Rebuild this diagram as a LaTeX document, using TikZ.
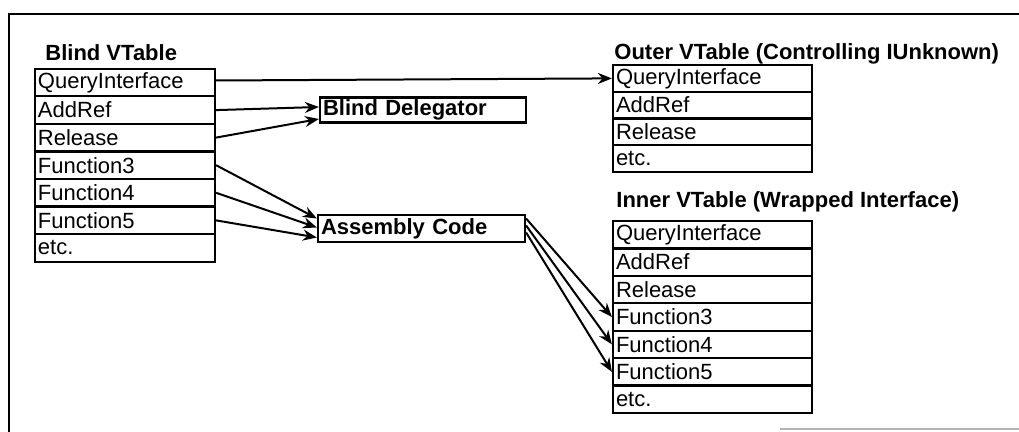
\documentclass[tikz,border=0pt]{standalone}
\usepackage{fontspec}
\setmainfont{Liberation Sans}
\usetikzlibrary{arrows.meta}
\tikzset{
  cell/.style={draw, line width=1.1pt, inner xsep=1.5pt, inner ysep=0pt,
    align=left, font=\fontsize{11}{13}\selectfont},
  brow/.style={cell, text width=87pt, minimum height=13.79pt},
  orow/.style={cell, text width=96.5pt, minimum height=13.38pt},
  irow/.style={cell, text width=96.5pt, minimum height=13.71pt},
  codebox/.style={draw, line width=1.1pt, inner xsep=1.5pt, inner ysep=0pt,
    align=left, font=\fontsize{11}{13}\selectfont\bfseries},
  heading/.style={anchor=base west, inner sep=0pt, font=\fontsize{11}{13}\selectfont\bfseries},
  link/.style={-{Stealth[length=7pt,width=5.5pt]}, line width=1pt},
  frameline/.style={line width=0.6pt}
}
\begin{document}
\begin{tikzpicture}[x=0.5pt, y=-0.5pt]
  \useasboundingbox (0,0) rectangle (1019,432);

  % page frame
  \draw[frameline] (9,432) -- (9,14) -- (1019,14);
  \draw[frameline, gray!60] (780,429) -- (1019,429);

  % blind vtable
  \node[heading] (btitle) at (45,61) {Blind VTable};
  \node[brow] (b1) at (125,82.5) {QueryInterface};
  \node[brow] (b2) at (125,110.1) {AddRef};
  \node[brow] (b3) at (125,137.6) {Release};
  \node[brow] (b4) at (125,165.2) {Function3};
  \node[brow] (b5) at (125,192.8) {Function4};
  \node[brow] (b6) at (125,220.4) {Function5};
  \node[brow] (b7) at (125,247.9) {etc.};

  % delegator and thunks
  \node[codebox, text width=100pt, minimum height=12.5pt] (dlg) at (423,110) {Blind Delegator};
  \node[codebox, text width=100.5pt, minimum height=13.5pt] (asm) at (421.5,228.5) {Assembly Code};

  % outer vtable
  \node[heading] (otitle) at (614,60) {Outer VTable (Controlling IUnknown)};
  \node[orow] (o1) at (712.5,78.4) {QueryInterface};
  \node[orow] (o2) at (712.5,105.1) {AddRef};
  \node[orow] (o3) at (712.5,131.9) {Release};
  \node[orow] (o4) at (712.5,158.6) {etc.};

  % inner vtable
  \node[heading] (ititle) at (616,208) {Inner VTable (Wrapped Interface)};
  \node[irow] (i1) at (712.5,234.7) {QueryInterface};
  \node[irow] (i2) at (712.5,262.1) {AddRef};
  \node[irow] (i3) at (712.5,289.6) {Release};
  \node[irow] (i4) at (712.5,317.0) {Function3};
  \node[irow] (i5) at (712.5,344.4) {Function4};
  \node[irow] (i6) at (712.5,371.9) {Function5};
  \node[irow] (i7) at (712.5,399.3) {etc.};

  % connectors
  \draw[link] ([yshift=1pt]b1.east) -- ([yshift=0pt]o1.west);
  \draw[link] (b2.east) -- ([yshift=1.5pt]dlg.west);
  \draw[link] (b3.east) -- ([yshift=-4.5pt]dlg.west);
  \draw[link] (b4.east) -- ([yshift=5pt]asm.west);
  \draw[link] (b5.east) -- ([yshift=0.5pt]asm.west);
  \draw[link] (b6.east) -- ([yshift=-4.5pt]asm.west);
  \draw[link] ([yshift=5pt]asm.east) -- (i4.west);
  \draw[link] ([yshift=1.5pt]asm.east) -- (i5.west);
  \draw[link] ([yshift=-2pt]asm.east) -- (i6.west);
\end{tikzpicture}
\end{document}
